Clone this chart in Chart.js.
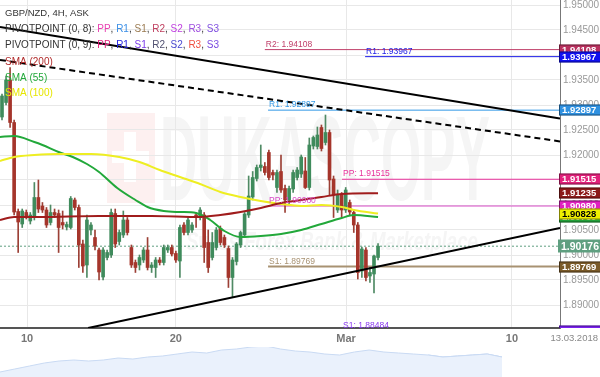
<!DOCTYPE html>
<html>
<head>
<meta charset="utf-8">
<script src="https://cdn.jsdelivr.net/npm/chart.js@4.4.1/dist/chart.umd.min.js"></script>
<style>
  html, body { margin: 0; padding: 0; background: #fff; }
  #wrap { position: relative; width: 600px; height: 377px; overflow: hidden; }
  #main { position: absolute; left: 0; top: 0; }
  #nav { position: absolute; left: 0; top: 347px; }
</style>
</head>
<body>
<div id="wrap">
  <canvas id="main" width="600" height="346"></canvas>
  <canvas id="nav" width="600" height="30"></canvas>
</div>
<script>
// GBP/NZD 4H candles
const opens  = [1.9276,1.9305,1.9350,1.9265,1.9087,1.9062,1.9085,1.9068,1.9075,1.9115,
                1.9098,1.9090,1.9065,1.9085,1.9083,1.9065,1.9056,1.9055,1.9110,1.9095,
                1.9022,1.8980,1.9050,1.9035,1.9010,1.8956,1.8995,1.9000,1.9083,1.9027,
                1.9040,1.9070,1.9015,1.8985,1.8980,1.8990,1.9010,1.8975,1.8975,1.8990,
                1.8985,1.9010,1.9015,1.9003,1.8988,1.9060,1.9045,1.9050,1.9080,1.9075,
                1.9080,1.9025,1.8995,1.9015,1.9053,1.9035,1.9013,1.8955,1.8987,1.9020,
                1.9040,1.9080,1.9116,1.9153,1.9175,1.9177,1.9205,1.9165,1.9135,1.9167,
                1.9133,1.9110,1.9132,1.9155,1.9162,1.9168,1.9135,1.9218,1.9217,1.9255,
                1.9225,1.9245,1.9152,1.9090,1.9120,1.9090,1.9105,1.9085,1.9060,1.8968,
                1.9010,1.8958,1.8962,1.8995];
const highs  = [1.9322,1.9358,1.9375,1.9270,1.9092,1.9092,1.9090,1.9085,1.9145,1.9150,
                1.9105,1.9095,1.9100,1.9092,1.9090,1.9088,1.9066,1.9117,1.9114,1.9100,
                1.9030,1.9080,1.9065,1.9050,1.9014,1.9015,1.9010,1.9092,1.9092,1.9050,
                1.9088,1.9075,1.9020,1.8990,1.9000,1.9015,1.9035,1.8985,1.8995,1.8995,
                1.9020,1.9020,1.9020,1.9008,1.9060,1.9065,1.9075,1.9065,1.9085,1.9095,
                1.9085,1.9050,1.9045,1.9055,1.9058,1.9040,1.9018,1.8995,1.9025,1.9048,
                1.9085,1.9158,1.9167,1.9180,1.9220,1.9185,1.9210,1.9170,1.9170,1.9200,
                1.9140,1.9138,1.9170,1.9175,1.9200,1.9195,1.9234,1.9238,1.9256,1.9260,
                1.9280,1.9250,1.9158,1.9130,1.9125,1.9135,1.9110,1.9090,1.9065,1.9016,
                1.9015,1.8975,1.9000,1.9023];
const lows   = [1.9270,1.9300,1.9255,1.9080,1.9005,1.9055,1.9072,1.9062,1.9070,1.9085,
                1.9085,1.9055,1.9060,1.9075,1.9005,1.9052,1.9050,1.9052,1.9090,1.8975,
                1.8965,1.8955,1.9040,1.9010,1.8950,1.8950,1.8990,1.8995,1.9015,1.9020,
                1.9035,1.9040,1.8975,1.8965,1.8970,1.8985,1.8970,1.8965,1.8955,1.8980,
                1.8980,1.9005,1.8998,1.8985,1.8955,1.9040,1.9040,1.9045,1.9055,1.9070,
                1.8985,1.8965,1.8990,1.9010,1.9020,1.9015,1.8935,1.8915,1.8980,1.9015,
                1.9035,1.9075,1.9110,1.9148,1.9168,1.9160,1.9150,1.9150,1.9125,1.9125,
                1.9085,1.9100,1.9125,1.9150,1.9155,1.9133,1.9130,1.9212,1.9212,1.9208,
                1.9220,1.9120,1.9075,1.9085,1.9076,1.9085,1.9080,1.9045,1.8952,1.8955,
                1.8948,1.8945,1.8924,1.8990];
const closes = [1.9318,1.9350,1.9265,1.9086,1.9066,1.9088,1.9078,1.9080,1.9115,1.9092,
                1.9090,1.9060,1.9085,1.9080,1.9055,1.9060,1.9061,1.9113,1.9095,1.9020,
                1.8978,1.9070,1.9060,1.9018,1.8966,1.9010,1.9005,1.9085,1.9022,1.9045,
                1.9070,1.9045,1.8980,1.8975,1.8995,1.9010,1.8975,1.8980,1.8990,1.8985,
                1.9015,1.9015,1.9002,1.8990,1.9055,1.9045,1.9070,1.9060,1.9075,1.9090,
                1.9015,1.8975,1.9025,1.9050,1.9025,1.9020,1.8955,1.8990,1.9022,1.9045,
                1.9082,1.9118,1.9155,1.9175,1.9180,1.9165,1.9155,1.9160,1.9165,1.9130,
                1.9110,1.9133,1.9165,1.9170,1.9196,1.9135,1.9220,1.9235,1.9240,1.9213,
                1.9245,1.9150,1.9120,1.9120,1.9090,1.9130,1.9086,1.9060,1.8965,1.9012,
                1.8955,1.8965,1.8998,1.90176];

// moving averages (candle index, value)
const sma55X  = [-0.5,3,8,10,14,17.5,21,24,28.5,33,36,40,44,48,51.5,55,59,64,69,74,79,84,87,93];
const sma55Y  = [1.9236,1.9238,1.9226,1.9220,1.9206,1.9196,1.9182,1.9166,1.9134,1.9110,1.9096,1.9088,
                 1.9086,1.9084,1.9070,1.9048,1.9036,1.9038,1.9042,1.9050,1.9062,1.9074,1.9080,1.9076];
const sma100X = [-0.5,3,8,14,22,29,34,39,44,49,54,59,64,69,74,79,84,87,93];
const sma100Y = [1.9188,1.9196,1.9200,1.9202,1.9202,1.9196,1.9186,1.9170,1.9156,1.9142,1.9126,1.9116,
                 1.9108,1.9102,1.9098,1.9100,1.9096,1.9090,1.90828];
const sma200X = [-0.5,3,9,24,37,49,54,59,64,69,74,79,84,93];
const sma200Y = [1.9070,1.9076,1.9076,1.9078,1.9078,1.9076,1.9080,1.9086,1.9094,1.9104,1.9110,1.9116,
                 1.9122,1.91235];

// pivot levels
const pivotNames  = ['R2','R1','R1','PP','PP','S1','S1'];
const pivotValues = [1.94108,1.93967,1.92897,1.91515,1.90980,1.89769,1.88484];
const pivotStarts = [65,89.8,65.8,84.1,65.8,65.8,84.1];
const pivotColors = ['#c0406a','#1a1ae6','#3399e6','#e8309a','#d94cc8','#a89272','#8a3af0'];
const pivotBoxColors = ['#b8305e','#1010f0','#2e90e0','#e0207a','#e020c0','#7a5a28','#7a20f0'];

// trend lines (candle index, price)
const upperTrend  = [[-0.5,1.9456],[138,1.92728]];
const dashedTrend = [[-0.5,1.9390],[138,1.92272]];
const lowerTrend  = [[21.3,1.8854],[138,1.9054]];

const lastPrice = 1.90176;
const xMin = -0.495, xMax = 138.0, yMin = 1.8854, yMax = 1.951;
const xTickPos = [6.2, 43.0, 85.1, 126.1];
const xTickLabels = ['10', '20', 'Mar', '10'];

// navigator history
const navValues = [5,8,11,14,16,17,16,17,19,18,20,21,23,25,24,27,28,30,31,28,26,25,23,22,25,27,25,24,23,22,20,21,22,23,20];
const navSelStart = 29;

const GREEN = '#3f8b5c', RED = '#a5352b';
const FONT = '"Liberation Sans", Arial, sans-serif';
const isUp = i => closes[i] >= opens[i];
const pts = (xs, ys) => xs.map((x, i) => ({ x, y: ys[i] }));
const seg = p => p.map(([x, y]) => ({ x, y }));

const lineDs = (data, color, width, extra) => Object.assign({
  type: 'line', data, borderColor: color, borderWidth: width, pointRadius: 0,
  fill: false, tension: 0
}, extra || {});

const datasets = [
  lineDs(seg(upperTrend), '#000', 2, { order: 0 }),
  lineDs(seg(dashedTrend), '#000', 2, { order: 0, borderDash: [6, 4] }),
  lineDs(seg(lowerTrend), '#000', 2, { order: 0 }),
  lineDs(pts(sma200X, sma200Y), '#a01c1c', 2, { order: 1, cubicInterpolationMode: 'monotone' }),
  lineDs(pts(sma100X, sma100Y), '#eeee22', 2, { order: 1, cubicInterpolationMode: 'monotone' }),
  lineDs(pts(sma55X, sma55Y), '#22a83a', 2, { order: 1, cubicInterpolationMode: 'monotone' }),
  {
    type: 'bar', order: 2, grouped: false, barThickness: 3, minBarLength: 1,
    data: opens.map((o, i) => ({ x: i, y: [o, closes[i]] })),
    backgroundColor: c => isUp(c.dataIndex) ? GREEN : RED
  },
  {
    type: 'bar', order: 3, grouped: false, barThickness: 1,
    data: opens.map((o, i) => ({ x: i, y: [lows[i], highs[i]] })),
    backgroundColor: c => isUp(c.dataIndex) ? '#4f8a64' : '#9c4036'
  },
  lineDs([{ x: xMin, y: lastPrice }, { x: xMax, y: lastPrice }], '#5f9f80', 1, { order: 4, borderDash: [2, 2] })
];
pivotValues.forEach((v, i) => {
  datasets.push(lineDs([{ x: pivotStarts[i], y: v }, { x: xMax, y: v }], pivotColors[i], i === 5 ? 2 : 1, { order: 4 }));
});

const watermark = {
  id: 'watermark',
  beforeDraw(chart) {
    const ctx = chart.ctx;
    ctx.save();
    ctx.fillStyle = '#fdf0f0';
    ctx.fillRect(107, 113, 48, 90);
    ctx.fillStyle = '#ffffff';
    ctx.fillRect(124, 132, 12, 50);
    ctx.fillRect(112, 151, 37, 12);
    ctx.fillStyle = '#f5f5f5';
    ctx.font = 'bold 120px ' + FONT;
    ctx.textBaseline = 'alphabetic';
    ctx.fillText('DUKASCOPY', 160, 200, 330);
    ctx.font = 'italic bold 26px ' + FONT;
    ctx.fillText('Swiss Forex Bank & Marketplace', 186, 250, 292);
    ctx.restore();
  }
};

const overlay = {
  id: 'overlay',
  afterDatasetsDraw(chart) {
    const { ctx, scales: { x, y } } = chart;
    ctx.save();
    ctx.font = '8.5px ' + FONT;
    ctx.textBaseline = 'bottom';
    pivotValues.forEach((v, i) => {
      ctx.fillStyle = pivotColors[i];
      ctx.fillText(pivotNames[i] + ': ' + v.toFixed(5), x.getPixelForValue(pivotStarts[i]) + 1, y.getPixelForValue(v) - 1);
    });
    ctx.restore();
  },
  afterDraw(chart) {
    const { ctx, chartArea, scales: { y } } = chart;
    ctx.save();
    // value boxes on the price axis
    ctx.beginPath();
    ctx.rect(chartArea.right - 2, 0, 43, chartArea.bottom);
    ctx.clip();
    const boxes = [
      [pivotValues[0], pivotBoxColors[0], '#fff'],
      [pivotValues[1], pivotBoxColors[1], '#fff'],
      [pivotValues[2], pivotBoxColors[2], '#fff'],
      [pivotValues[3], pivotBoxColors[3], '#fff'],
      [sma200Y[sma200Y.length - 1], '#8b1a1a', '#fff'],
      [sma55Y[sma55Y.length - 1], '#22a03a', '#fff'],
      [pivotValues[4], pivotBoxColors[4], '#fff'],
      [sma100Y[sma100Y.length - 1], '#f0f000', '#000'],
      [pivotValues[5], pivotBoxColors[5], '#fff'],
      [pivotValues[6], pivotBoxColors[6], '#fff']
    ];
    ctx.textBaseline = 'middle';
    boxes.forEach(([v, bg, fg]) => {
      const py = Math.round(y.getPixelForValue(v));
      ctx.fillStyle = bg;
      ctx.fillRect(chartArea.right - 1, py - 5.5, 42, 11);
      ctx.strokeStyle = 'rgba(0,0,0,0.45)';
      ctx.lineWidth = 1;
      ctx.strokeRect(chartArea.right - 0.5, py - 5, 41, 10);
      ctx.fillStyle = fg;
      ctx.font = 'bold 9.5px ' + FONT;
      ctx.fillText(v.toFixed(5), chartArea.right + 2, py + 0.5, 37);
    });
    const lp = Math.round(y.getPixelForValue(lastPrice));
    ctx.fillStyle = '#5f9f80';
    ctx.fillRect(chartArea.right - 2, lp - 6.5, 43, 13);
    ctx.fillStyle = '#fff';
    ctx.font = 'bold 11px ' + FONT;
    ctx.fillText(lastPrice.toFixed(5), chartArea.right + 1, lp + 0.5, 38);
    ctx.restore();

    // legend
    ctx.save();
    ctx.textBaseline = 'middle';
    const rows = [
      [['GBP/NZD, 4H, ASK', '#333']],
      [['PIVOTPOINT (0, 8): ', '#333'], ['PP', '#e83eb0'], [', ', '#333'], ['R1', '#3a8ee6'], [', ', '#333'], ['S1', '#9a7a50'],
       [', ', '#333'], ['R2', '#c04060'], [', ', '#333'], ['S2', '#c040e0'], [', ', '#333'], ['R3', '#a050e0'], [', ', '#333'], ['S3', '#8050e0']],
      [['PIVOTPOINT (0, 9): ', '#333'], ['PP', '#e0207a'], [', ', '#333'], ['R1', '#2020e0'], [', ', '#333'], ['S1', '#7a3ae8'],
       [', ', '#333'], ['R2', '#505070'], [', ', '#333'], ['S2', '#4a4ad0'], [', ', '#333'], ['R3', '#f05040'], [', ', '#333'], ['S3', '#7a4ae0']],
      [['SMA (200)', '#b02a2a']],
      [['SMA (55)', '#22a83a']],
      [['SMA (100)', '#e6e600']]
    ];
    const rowY = [13, 29, 45, 62, 78, 93];
    rows.forEach((row, r) => {
      ctx.font = (r === 0 ? '9.5px ' : '10px ') + FONT;
      let px = 5;
      row.forEach(([t, c]) => {
        ctx.fillStyle = c;
        ctx.fillText(t, px, rowY[r]);
        px += ctx.measureText(t).width;
      });
    });
    ctx.fillStyle = '#888';
    ctx.font = '9.5px ' + FONT;
    ctx.textAlign = 'right';
    ctx.fillText('13.03.2018', 598, chartArea.bottom + 10);
    ctx.restore();
  }
};

new Chart(document.getElementById('main'), {
  type: 'bar',
  data: { datasets },
  options: {
    responsive: false,
    animation: false,
    layout: { padding: 0 },
    plugins: { legend: { display: false }, tooltip: { enabled: false } },
    scales: {
      x: {
        type: 'linear', min: xMin, max: xMax, offset: false,
        grid: { color: '#e8e8e8', drawTicks: false, offset: false },
        border: { color: '#555', width: 2 },
        afterBuildTicks: s => { s.ticks = xTickPos.map(v => ({ value: v })); },
        ticks: {
          autoSkip: false, maxRotation: 0, padding: 4, color: '#777',
          font: { size: 11, weight: 'bold', family: FONT },
          callback: (v, i) => xTickLabels[i]
        },
        afterFit: s => { s.height = 18; s.paddingLeft = 0; s.paddingRight = 0; }
      },
      y: {
        position: 'right', min: yMin, max: yMax,
        grid: { color: '#e8e8e8', drawTicks: false },
        border: { color: '#777', width: 1 },
        ticks: {
          stepSize: 0.005, includeBounds: false, padding: 3, color: '#999',
          font: { size: 10, family: FONT },
          callback: v => v.toFixed(5)
        },
        afterFit: s => { s.width = 40; s.paddingTop = 0; s.paddingBottom = 0; }
      }
    }
  },
  plugins: [watermark, overlay]
});

const navXMax = (navValues.length - 1) * 600 / 502;
new Chart(document.getElementById('nav'), {
  type: 'line',
  data: {
    datasets: [
      {
        data: navValues.map((v, i) => ({ x: i, y: v })),
        fill: 'origin', backgroundColor: '#eaf1fc', borderColor: '#c9daf3', borderWidth: 1, pointRadius: 0
      },
      {
        data: navValues.map((v, i) => ({ x: i, y: i >= navSelStart ? v : null })),
        fill: 'origin', backgroundColor: '#d6e4f7', borderColor: '#bcd1f0', borderWidth: 1, pointRadius: 0
      }
    ]
  },
  options: {
    responsive: false,
    animation: false,
    layout: { padding: 0 },
    plugins: { legend: { display: false }, tooltip: { enabled: false } },
    scales: {
      x: { type: 'linear', min: 0, max: navXMax, display: false },
      y: { min: 0, max: 30, display: false }
    }
  }
});
</script>
</body>
</html>
